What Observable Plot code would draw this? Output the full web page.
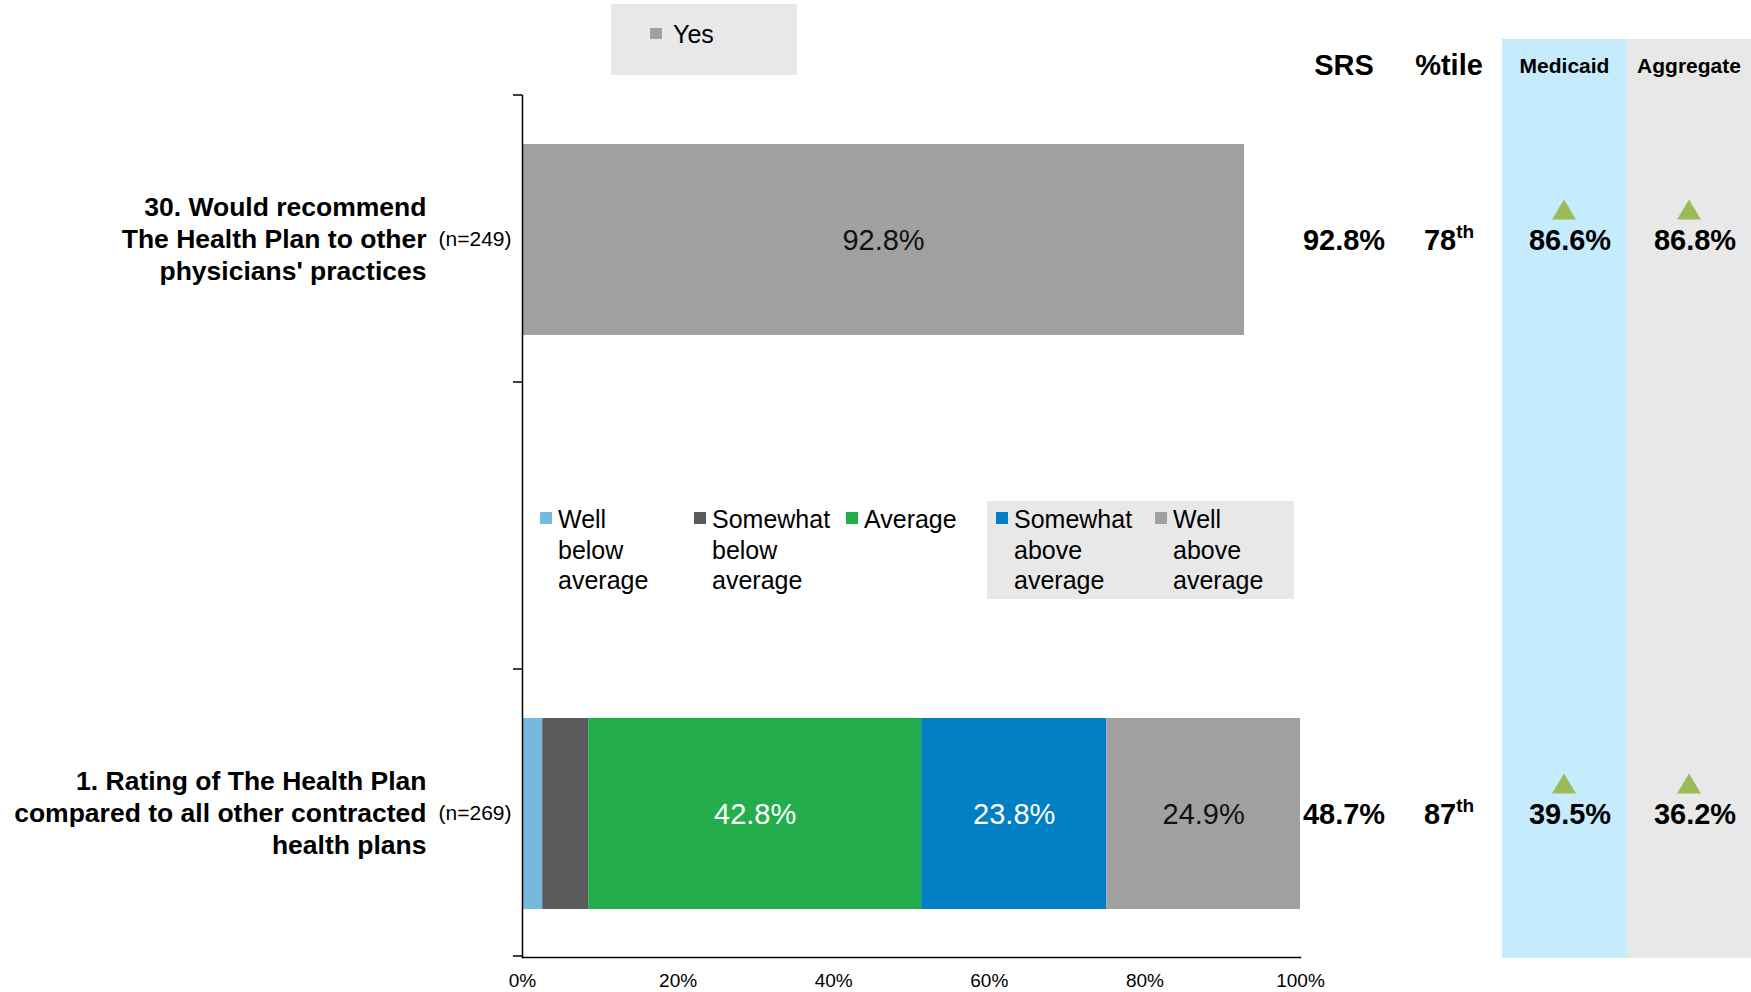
<!DOCTYPE html>
<html><head><meta charset="utf-8">
<script src="https://cdn.jsdelivr.net/npm/d3@7"></script>
<script src="https://cdn.jsdelivr.net/npm/@observablehq/plot@0.6"></script>
<style>
html,body{margin:0;padding:0;background:#fff;}
#chart svg{display:block;}
</style></head><body><div id="chart"></div>
<script>
// ---------------- data ----------------
const questions = ["q30", "gap", "q1"];
const questionLabels = [
  "30. Would recommend\nThe Health Plan to other\nphysicians' practices",
  "",
  "1. Rating of The Health Plan\ncompared to all other contracted\nhealth plans"
];
const sampleSizes = [249, null, 269];
const ratingCategories = ["Yes", "Well below average", "Somewhat below average", "Average", "Somewhat above average", "Well above average"];
const ratingColors = ["#a0a0a0", "#75b9de", "#5b5b5b", "#24ae4b", "#007fc5", "#a0a0a0"];
const lightLabelCategories = ["Average", "Somewhat above average"];
const q30Values = [92.8];                      // Yes
const q1Values = [2.6, 5.9, 42.8, 23.8, 24.9]; // Well below .. Well above
const srsScores = [92.8, 48.7];
const percentiles = [78, 87];
const medicaidScores = [86.6, 39.5];
const aggregateScores = [86.8, 36.2];
const medicaidSignals = ["up", "up"];
const aggregateSignals = ["up", "up"];
const xTicks = [0, 20, 40, 60, 80, 100];
const tableHeaders = ["SRS", "%tile", "Medicaid", "Aggregate"];
const scoredQuestions = ["q30", "q1"];

// ---------------- tables built from data ----------------
const rows = [
  ...q30Values.map(v => ({q: "q30", cat: "Yes", value: v})),
  ...q1Values.map((v, i) => ({q: "q1", cat: ratingCategories[i + 1], value: v}))
];
const questionRows = questions.map((q, i) => ({q, label: questionLabels[i], n: sampleSizes[i]})).filter(d => d.label);
const pct = v => v.toFixed(1) + "%";
const FONT = '"Liberation Sans", Arial, Helvetica, sans-serif';

const chart = Plot.plot({
  width: 1751, height: 992,
  marginLeft: 522, marginRight: 451, marginTop: 95, marginBottom: 35,
  style: {fontFamily: FONT, background: "transparent", color: "#000"},
  x: {domain: [0, 100]},
  y: {type: "band", domain: questions, paddingInner: 0.335, paddingOuter: 0.1675, axis: null},
  color: {domain: ratingCategories, range: ratingColors},
  marks: [
    Plot.barX(rows, Plot.stackX({x: "value", y: "q", fill: "cat"})),
    Plot.text(rows, Plot.stackX({x: "value", y: "q",
      text: d => d.value >= 10 && lightLabelCategories.includes(d.cat) ? pct(d.value) : "",
      fill: "#ffffff", fontSize: 29, dy: 1})),
    Plot.text(rows, Plot.stackX({x: "value", y: "q",
      text: d => d.value >= 10 && !lightLabelCategories.includes(d.cat) ? pct(d.value) : "",
      fill: "#111111", fontSize: 29, dy: 1})),
    Plot.text(questionRows, {y: "q", text: "label", frameAnchor: "left", textAnchor: "end", dx: -96, dy: -2,
      fontSize: 26.5, fontWeight: "bold", lineHeight: 1.21, fill: "#000"}),
    Plot.text(questionRows, {y: "q", text: d => `(n=${d.n})`, frameAnchor: "left", textAnchor: "end", dx: -11, dy: -1,
      fontSize: 21, fill: "#000"}),
    Plot.axisX(xTicks, {tickSize: 0, tickPadding: 16, tickFormat: d => d + "%", fontSize: 19, label: null}),
    Plot.frame({anchor: "left", strokeWidth: 1.5}),
    Plot.frame({anchor: "bottom", strokeWidth: 1.5})
  ]
});
document.getElementById("chart").appendChild(chart);

// ---------------- annotations using the chart's scales ----------------
const svg = d3.select(chart);
const xs = chart.scale("x"), ys = chart.scale("y");
const bw = ys.bandwidth;
const step = ys.step || bw / (1 - 0.335);
const yTop = ys.range[0], yBottom = ys.range[1];
const center = q => ys.apply(q) + bw / 2;

// layout (pixels)
const L = {
  medBand: [1502, 1627], aggBand: [1627, 1751], bandTop: 39,
  colSRS: 1344, colPct: 1449, colMed: 1570, colAgg: 1695, triMed: 1564, triAgg: 1689,
  headerBaseline: 75, subHeaderBaseline: 73
};

// background bands (behind everything)
const bg = svg.insert("g", ":first-child");
bg.append("rect").attr("x", L.medBand[0]).attr("y", L.bandTop).attr("width", L.medBand[1] - L.medBand[0])
  .attr("height", yBottom + 1 - L.bandTop).attr("fill", "#c5ebfc");
bg.append("rect").attr("x", L.aggBand[0]).attr("y", L.bandTop).attr("width", L.aggBand[1] - L.aggBand[0])
  .attr("height", yBottom + 1 - L.bandTop).attr("fill", "#e8e8e8");

// y tick marks at band boundaries
const g = svg.append("g").attr("font-family", FONT).attr("text-anchor", "start");
const x0 = xs.apply(0);
for (let i = 0; i <= questions.length; i++) {
  const yy = yTop + i * step;
  g.append("line").attr("x1", x0 - 9).attr("x2", x0).attr("y1", yy).attr("y2", yy)
    .attr("stroke", "#000").attr("stroke-width", 1.5);
}

// headers
const hdr = [[tableHeaders[0], L.colSRS, 29, L.headerBaseline], [tableHeaders[1], L.colPct, 29, L.headerBaseline],
             [tableHeaders[2], (L.medBand[0] + L.medBand[1]) / 2, 21, L.subHeaderBaseline],
             [tableHeaders[3], (L.aggBand[0] + L.aggBand[1]) / 2, 21, L.subHeaderBaseline]];
hdr.forEach(([t, x, fs, yb]) => g.append("text").attr("x", x).attr("y", yb).attr("text-anchor", "middle")
  .attr("font-size", fs).attr("font-weight", "bold").attr("fill", "#000").text(t));

// rows of the table
const ordinal = n => { const s = ["th","st","nd","rd"], v = n % 100; return s[(v - 20) % 10] || s[v] || s[0]; };
scoredQuestions.forEach((q, i) => {
  const cy = center(q), base = cy + 10;
  g.append("text").attr("x", L.colSRS).attr("y", base).attr("text-anchor", "middle").attr("font-size", 29)
    .attr("font-weight", "bold").text(pct(srsScores[i]));
  const t = g.append("text").attr("x", L.colPct).attr("y", base).attr("text-anchor", "middle").attr("font-size", 29)
    .attr("font-weight", "bold");
  t.append("tspan").text(percentiles[i]);
  t.append("tspan").attr("font-size", 19).attr("dy", -12).text(ordinal(percentiles[i]));
  g.append("text").attr("x", L.colMed).attr("y", base).attr("text-anchor", "middle").attr("font-size", 29)
    .attr("font-weight", "bold").text(pct(medicaidScores[i]));
  g.append("text").attr("x", L.colAgg).attr("y", base).attr("text-anchor", "middle").attr("font-size", 29)
    .attr("font-weight", "bold").text(pct(aggregateScores[i]));
  [[medicaidSignals[i], L.triMed], [aggregateSignals[i], L.triAgg]].forEach(([sig, tx]) => {
    if (!sig) return;
    const top = cy - 40, bot = cy - 20;
    const pts = sig === "up" ? [[tx - 12, bot], [tx + 12, bot], [tx, top]] : [[tx - 12, top], [tx + 12, top], [tx, bot]];
    g.append("polygon").attr("points", pts.map(p => p.join(",")).join(" ")).attr("fill", "#9bbb59");
  });
});

// legend for the "Yes" bar
const lg1 = g.append("g");
lg1.append("rect").attr("x", 611).attr("y", 4).attr("width", 186).attr("height", 71).attr("fill", "#e8e8e8");
lg1.append("rect").attr("x", 650).attr("y", 28).attr("width", 12).attr("height", 11).attr("fill", ratingColors[0]);
lg1.append("text").attr("x", 673).attr("y", 43).attr("font-size", 25).attr("text-anchor", "start").attr("fill", "#000").text(ratingCategories[0]);

// legend for the rating bar
const lg2 = g.append("g");
lg2.append("rect").attr("x", 987).attr("y", 501).attr("width", 307).attr("height", 98).attr("fill", "#e8e8e8");
const swX = [540, 694, 846, 996, 1155];
ratingCategories.slice(1).forEach((c, i) => {
  lg2.append("rect").attr("x", swX[i]).attr("y", 512).attr("width", 12).attr("height", 12).attr("fill", ratingColors[i + 1]);
  const tx = lg2.append("text").attr("x", swX[i] + 18).attr("y", 528).attr("font-size", 25)
    .attr("text-anchor", "start").attr("fill", "#000");
  c.split(" ").forEach((w, j) => tx.append("tspan").attr("x", swX[i] + 18).attr("dy", j ? 30.5 : 0).text(w));
});
</script></body></html>
